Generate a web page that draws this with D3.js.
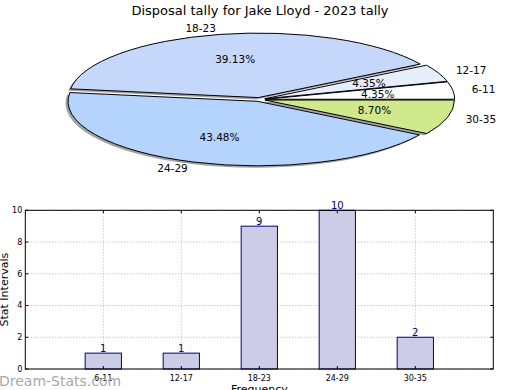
<!DOCTYPE html>
<html><head><meta charset="utf-8">
<script src="https://cdn.jsdelivr.net/npm/d3@7"></script>
<style>body{margin:0;background:#fff;} svg{display:block;font-family:"DejaVu Sans",sans-serif;}</style>
</head><body>
<svg id="c" width="520" height="390"></svg>
<script>
const title = "Disposal tally for Jake Lloyd - 2023 tally";
const categories = ["6-11","12-17","18-23","24-29","30-35"];
const values = [1,1,9,10,2];
const pieColors = ["#ffffff","#e6eefc","#c5d8fc","#b4d4fd","#cfe98c"];
const yTicks = [0,2,4,6,8,10];
const yLabel = "Stat Intervals";
const xLabel = "Frequency";
const watermark = "Dream-Stats.com";

const svg = d3.select("#c");
svg.append("text").attr("x",260).attr("y",15).attr("text-anchor","middle")
  .attr("font-size",13).text(title);

// ---- Pie (elliptical, matplotlib-style: counter-clockwise from 0 rad) ----
const cx = 259.5, cy = 99.5, rx = 189.5, ry = 64.5, explode = 0.03;
const total = d3.sum(values);
const pie = d3.pie().sort(null).value(d=>d)
  .startAngle(0).endAngle(2*Math.PI);
const arcs = pie(values);
const arcGen = d3.arc().innerRadius(0).outerRadius(1);
function slicePath(a){
  const s = Math.PI/2 - a.endAngle, e = Math.PI/2 - a.startAngle;
  return arcGen({startAngle:s,endAngle:e});
}
const gPie = svg.append("g");
arcs.forEach((a,i)=>{
  const mid = (a.startAngle+a.endAngle)/2;
  const ox = explode*rx*Math.cos(mid), oy = -explode*ry*Math.sin(mid);
  gPie.append("path").attr("d",slicePath(a))
    .attr("transform",`translate(${cx+ox-2.5},${cy+oy+2})scale(${rx},${ry})`)
    .attr("fill","#444").attr("opacity",0.5);
});
arcs.forEach((a,i)=>{
  const mid = (a.startAngle+a.endAngle)/2;
  const ox = explode*rx*Math.cos(mid), oy = -explode*ry*Math.sin(mid);
  gPie.append("path").attr("d",slicePath(a))
    .attr("transform",`translate(${cx+ox},${cy+oy})scale(${rx},${ry})`)
    .attr("fill",pieColors[i]).attr("stroke","#000").attr("stroke-width",1)
    .attr("vector-effect","non-scaling-stroke").attr("stroke-linejoin","round");
});
arcs.forEach((a,i)=>{
  const mid = (a.startAngle+a.endAngle)/2;
  const ox = explode*rx*Math.cos(mid), oy = -explode*ry*Math.sin(mid);
  const c = Math.cos(mid), s = Math.sin(mid);
  gPie.append("text")
    .attr("x",cx+ox+0.6*rx*c).attr("y",cy+oy-0.6*ry*s).attr("dy","0.35em")
    .attr("text-anchor","middle").attr("font-size",10.5)
    .text((values[i]/total*100).toFixed(2)+"%");
  gPie.append("text")
    .attr("x",cx+ox+1.1*rx*c).attr("y",cy+oy-1.1*ry*s).attr("dy","0.35em")
    .attr("text-anchor",c>=0?"start":"end").attr("font-size",10.5)
    .text(categories[i]);
});

// ---- Bar chart ----
const L=25.3, R=493.3, T=210.3, B=369;
const x = d3.scaleLinear().domain([-1,categories.length]).range([L,R]);
const y = d3.scaleLinear().domain([0,10]).range([B,T]);
const g = svg.append("g");
g.selectAll(".gx").data(categories).enter().append("line")
  .attr("x1",(d,i)=>x(i)).attr("x2",(d,i)=>x(i)).attr("y1",T).attr("y2",B)
  .attr("stroke","#b0b0b0").attr("stroke-dasharray","1,2");
g.selectAll(".gy").data(yTicks).enter().append("line")
  .attr("x1",L).attr("x2",R).attr("y1",d=>y(d)).attr("y2",d=>y(d))
  .attr("stroke","#b0b0b0").attr("stroke-dasharray","1,2");
const bw = 0.465*(x(1)-x(0));
g.selectAll(".bar").data(values).enter().append("rect")
  .attr("x",(d,i)=>x(i)-bw/2).attr("width",bw)
  .attr("y",d=>y(d)).attr("height",d=>B-y(d))
  .attr("fill","#ccccE6").attr("stroke","#000080").attr("stroke-width",1);
g.selectAll(".vl").data(values).enter().append("text")
  .attr("x",(d,i)=>x(i)).attr("y",d=>y(d)-1.5).attr("text-anchor","middle")
  .attr("font-size",10).attr("fill","#000080").text(d=>d);
g.append("rect").attr("x",L).attr("y",T).attr("width",R-L).attr("height",B-T)
  .attr("fill","none").attr("stroke","#000").attr("stroke-width",1);
g.selectAll(".ty").data(yTicks).enter().append("g").each(function(d){
  const s=d3.select(this);
  s.append("line").attr("x1",L).attr("x2",L+3).attr("y1",y(d)).attr("y2",y(d)).attr("stroke","#000");
  s.append("line").attr("x1",R).attr("x2",R-3).attr("y1",y(d)).attr("y2",y(d)).attr("stroke","#000");
  s.append("text").attr("x",L-3).attr("y",y(d)).attr("dy","0.35em").attr("text-anchor","end")
    .attr("font-size",8).text(d);
});
g.selectAll(".tx").data(categories).enter().append("g").each(function(d,i){
  const s=d3.select(this);
  s.append("line").attr("x1",x(i)).attr("x2",x(i)).attr("y1",B).attr("y2",B-3).attr("stroke","#000");
  s.append("line").attr("x1",x(i)).attr("x2",x(i)).attr("y1",T).attr("y2",T+3).attr("stroke","#000");
  s.append("text").attr("x",x(i)).attr("y",B+12).attr("text-anchor","middle")
    .attr("font-size",8).text(d);
});
svg.append("text").attr("transform",`translate(8,${(T+B)/2})rotate(-90)`)
  .attr("text-anchor","middle").attr("font-size",11).text(yLabel);
svg.append("text").attr("x",(L+R)/2).attr("y",B+24).attr("text-anchor","middle")
  .attr("font-size",11).text(xLabel);
svg.append("text").attr("x",-1).attr("y",386).attr("font-size",14)
  .attr("fill","#a8a8a8").text(watermark);
</script>
</body></html>
